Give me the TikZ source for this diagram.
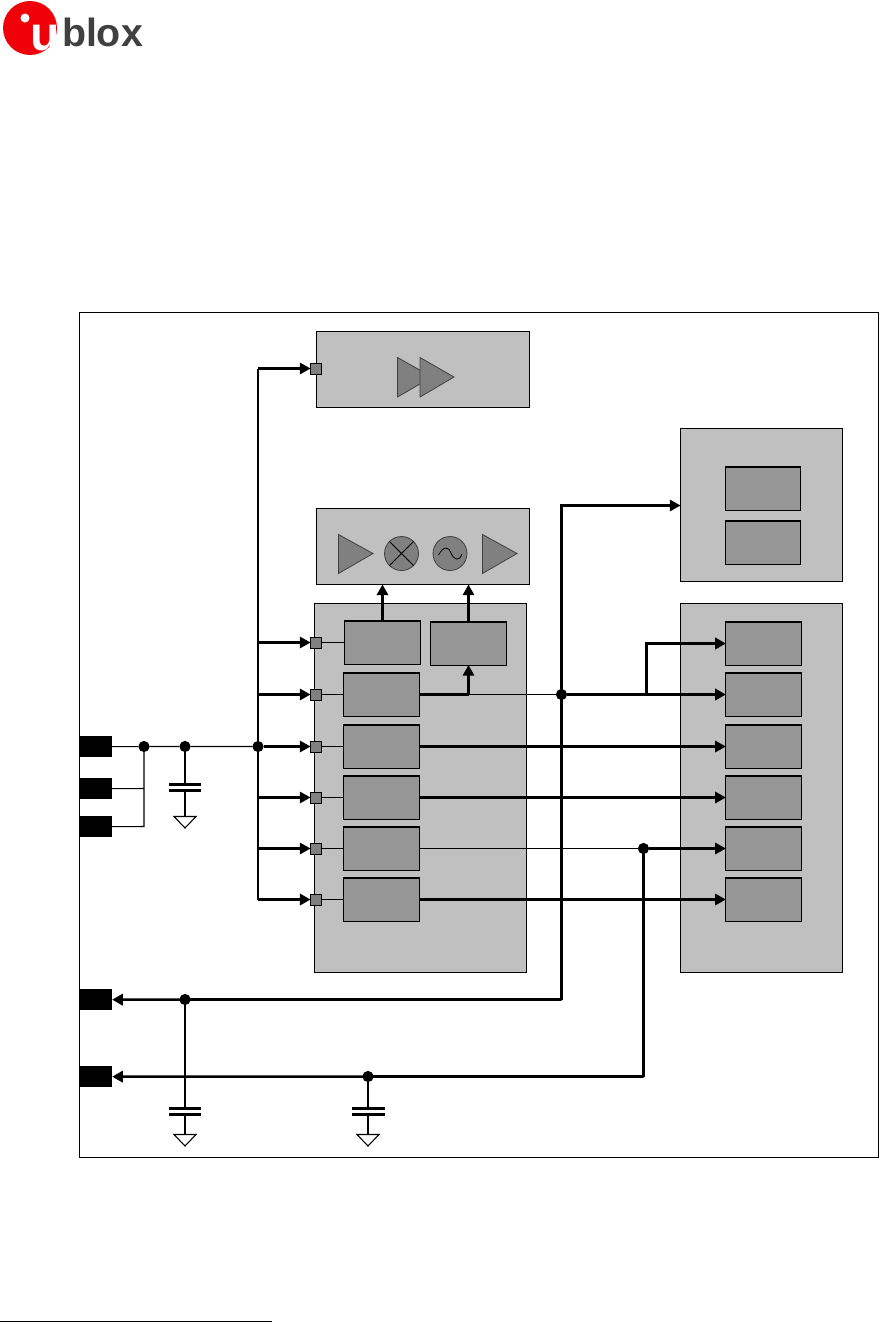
\documentclass[tikz,border=0pt]{standalone}
\usepackage{fontspec}
\setmainfont{Liberation Sans}
\usetikzlibrary{arrows.meta,calc}
\definecolor{lightbox}{HTML}{C0C0C0}
\definecolor{darkbox}{HTML}{969696}
\definecolor{symgrey}{HTML}{808080}
\definecolor{logored}{HTML}{F00008}
\definecolor{logogrey}{HTML}{404040}
\tikzset{
  every node/.style={inner sep=0pt,outer sep=0pt},
  panel/.style={draw=black,fill=lightbox,line width=0.8pt,anchor=north west},
  sub/.style={draw=black,fill=darkbox,line width=0.8pt,minimum width=56.5pt,minimum height=32.3pt},
  port/.style={draw=black,fill=symgrey,line width=0.7pt,minimum width=8.2pt,minimum height=8.2pt},
  pad/.style={fill=black,anchor=north west,minimum width=24.5pt,minimum height=16pt},
  dotj/.style={circle,fill=black,minimum size=8.4pt},
  thin line/.style={line width=0.8pt},
  thick line/.style={line width=1.7pt},
  arr/.style={-{Triangle[length=8pt,width=8.5pt]},line width=1.6pt},
  arrthick/.style={-{Triangle[length=8pt,width=8.5pt]},line width=1.9pt},
  sym/.style={draw=black!75,fill=symgrey,line width=0.6pt},
  plate/.style={line width=2.4pt},
  gnd/.style={draw=black,fill=white,line width=0.8pt},
}
\begin{document}
\begin{tikzpicture}[x=0.75pt,y=-0.75pt]
\useasboundingbox (0,0) rectangle (879,1324);
% logo
\fill[logored] (30,28) circle (27);
\fill[white] (25,18) circle (4.5);
\node[text=white,font=\bfseries\fontsize{36}{36}\selectfont,anchor=base] (logou) at (45,50) {u};
\node[text=logogrey,font=\bfseries\fontsize{29.5}{30}\selectfont,anchor=base west] (logotext) at (62,46) {blox};
% footnote rule
\draw[line width=0.8pt] (0,1321.5) -- (272,1321.5);
% outer frame
\node[draw=black,line width=0.8pt,anchor=north west,minimum width=599pt,minimum height=633.5pt] (frame) at (79.5,312.5) {};
% panels
\node[panel,minimum width=159.75pt,minimum height=57pt] (amp) at (316.5,331.5) {};
\node[panel,minimum width=159.75pt,minimum height=57pt] (rf) at (316.5,508.5) {};
\node[panel,minimum width=159pt,minimum height=276.75pt] (main) at (314.5,603.5) {};
\node[panel,minimum width=121.5pt,minimum height=114.75pt] (rtop) at (680.5,428.5) {};
\node[panel,minimum width=121.5pt,minimum height=276.75pt] (rbot) at (680.5,603.5) {};
% amp symbols
\draw[sym] (397.5,357.5) -- (397.5,397) -- (432,377) -- cycle;
\draw[sym] (420,357.5) -- (420,397) -- (454,377) -- cycle;
% rf symbols
\draw[sym] (338.5,534.5) -- (338.5,573.5) -- (373,553.5) -- cycle;
\node[sym,circle,minimum size=25.5pt] (mix) at (401.5,553.5) {};
\draw[line width=0.6pt] (mix.north west) -- (mix.south east) (mix.north east) -- (mix.south west);
\node[sym,circle,minimum size=25.5pt] (osc) at (450,553.5) {};
\draw[line width=0.6pt] (438.5,555) .. controls (444,545) and (449,547) .. (451,553) .. controls (454,560) and (459,562) .. (462,554);
\draw[sym] (482.5,534.5) -- (482.5,573.5) -- (517,553.5) -- cycle;
% sub boxes, main
\node[sub] (ma) at (382.5,642.5) {};
\node[sub] (mb) at (468.5,643.5) {};
\node[sub] (m1) at (381.5,694.5) {};
\node[sub] (m2) at (381.5,746.5) {};
\node[sub] (m3) at (381.5,797.5) {};
\node[sub] (m4) at (381.5,848.5) {};
\node[sub] (m5) at (381.5,899.5) {};
% sub boxes, right
\node[sub] (t1) at (763,488.5) {};
\node[sub] (t2) at (763,542.5) {};
\node[sub] (r0) at (763.5,643.5) {};
\node[sub] (r1) at (763.5,694.5) {};
\node[sub] (r2) at (763.5,746.5) {};
\node[sub] (r3) at (763.5,797.5) {};
\node[sub] (r4) at (763.5,848.5) {};
\node[sub] (r5) at (763.5,899.5) {};
% ports
\node[port] (pamp) at (316,368.5) {};
\node[port] (p0) at (316,642.5) {};
\node[port] (p1) at (316,694.5) {};
\node[port] (p2) at (316,746.5) {};
\node[port] (p3) at (316,797.5) {};
\node[port] (p4) at (316,848.5) {};
\node[port] (p5) at (316,899.5) {};
% pads
\node[pad] (pa) at (79.5,736) {};
\node[pad] (pb) at (79.5,778) {};
\node[pad,minimum width=24pt] (pc) at (79.5,816) {};
\node[pad] (pd) at (79.5,989) {};
\node[pad] (pe) at (79.5,1066) {};
% junctions
\node[dotj] (j1) at (144,746.5) {};
\node[dotj] (j2) at (185,746.5) {};
\node[dotj] (j3) at (258,746.5) {};
\node[dotj] (j4) at (561.5,694.5) {};
\node[dotj] (j5) at (643.5,848.5) {};
\node[dotj] (j6) at (185,999.5) {};
\node[dotj] (j7) at (368,1076.5) {};
% corner coordinates
\coordinate (bust) at (258,368.5);
\coordinate (busb) at (258,899.5);
\coordinate (b0) at (258,642.5);
\coordinate (b1) at (258,694.5);
\coordinate (b3) at (258,797.5);
\coordinate (b4) at (258,848.5);
\coordinate (c561b) at (561.5,999.5);
\coordinate (c561t) at (561.5,505.5);
\coordinate (c643b) at (643.5,1076.5);
\coordinate (c646) at (646.5,694.5);
\coordinate (c144b) at (144,826.5);
\coordinate (c144m) at (144,788.5);
\coordinate (c469) at (468.5,694.5);
% left wiring
\draw[thin line] (pa.east) -- (j1) -- (j2) -- (j3);
\draw[thin line] (j1.center) -- (c144b) -- (pc.east);
\draw[thin line] (pb.east) -- (c144m);
% main bus
\draw[thick line] (bust) -- (busb);
\draw[arr] (bust) -- (pamp.west);
\draw[arr] (b0) -- (p0.west);
\draw[arr] (b1) -- (p1.west);
\draw[arr] (j3) -- (p2.west);
\draw[arr] (b3) -- (p3.west);
\draw[arr] (b4) -- (p4.west);
\draw[arrthick] (busb) -- (p5.west);
% port to sub box
\draw[thin line] (p0.east) -- (ma.west);
\draw[thin line] (p1.east) -- (m1.west);
\draw[thin line] (p2.east) -- (m2.west);
\draw[thin line] (p3.east) -- (m3.west);
\draw[thin line] (p4.east) -- (m4.west);
\draw[thin line] (p5.east) -- (m5.west);
% up to rf
\draw[arrthick] (ma.north) -- (ma.north |- rf.south);
\draw[arr] (mb.north) -- (mb.north |- rf.south);
\draw[arr] (c469) -- (mb.south);
\draw[thick line] (m1.east) -- (c469);
% to right blocks
\draw[thin line] (m1.east) -- (j4);
\draw[arrthick] (j4) -- (r1.west);
\draw[arrthick] (c646) |- (r0.west);
\draw[arr] (m2.east) -- (r2.west);
\draw[arr] (m3.east) -- (r3.west);
\draw[thin line] (m4.east) -- (j5);
\draw[arr] (j5) -- (r4.west);
\draw[arr] (m5.east) -- (r5.west);
% long return lines
\draw[arr] (c561b) -- (c561t) -- (rtop.west |- c561t);
\draw[arrthick] (c561b) -- (j6.center) -- (pd.east);
\draw[thick line] (j5.center) -- (c643b);
\draw[arrthick] (c643b) -- (j7.center) -- (pe.east);
% capacitors
\coordinate (cap1a) at (185,784.5);
\coordinate (cap1b) at (185,790.5);
\coordinate (gnd1) at (185,816.5);
\draw[thin line] (j2.center) -- (cap1a) (cap1b) -- (gnd1);
\draw[plate] (169,784.5) -- (201,784.5) (169,790.5) -- (201,790.5);
\draw[gnd] (174,816.5) -- (196,816.5) -- (185,828) -- cycle;
\coordinate (cap2a) at (185,1108.5);
\coordinate (cap2b) at (185,1114.5);
\coordinate (gnd2) at (185,1134.5);
\draw[thin line] (j6.center) -- (cap2a) (cap2b) -- (gnd2);
\draw[plate] (169,1108.5) -- (201,1108.5) (169,1114.5) -- (201,1114.5);
\draw[gnd] (174,1134.5) -- (196,1134.5) -- (185,1146) -- cycle;
\coordinate (cap3a) at (368,1108.5);
\coordinate (cap3b) at (368,1114.5);
\coordinate (gnd3) at (368,1134.5);
\draw[thin line] (j7.center) -- (cap3a) (cap3b) -- (gnd3);
\draw[plate] (352,1108.5) -- (385,1108.5) (352,1114.5) -- (385,1114.5);
\draw[gnd] (357,1134.5) -- (379,1134.5) -- (368,1146) -- cycle;
\end{tikzpicture}
\end{document}
